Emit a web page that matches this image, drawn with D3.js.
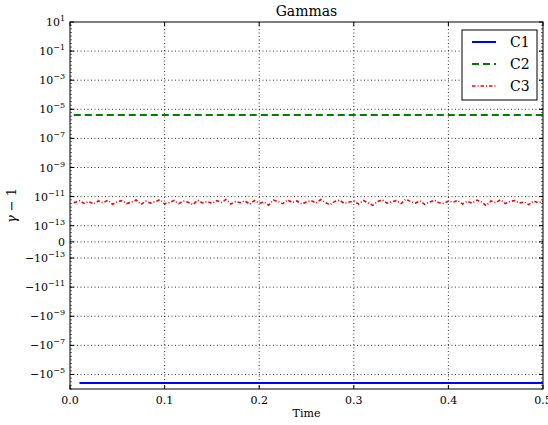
<!DOCTYPE html>
<html>
<head>
<meta charset="utf-8">
<script src="https://cdn.jsdelivr.net/npm/d3@7"></script>
<style>
  body { margin: 0; background: #fff; }
  svg { display: block; }
  text { font-family: "DejaVu Serif", "Liberation Serif", serif; fill: #000; }
</style>
</head>
<body>
<div id="chart"></div>
<script>
// values
var seriesNames = ["C1", "C2", "C3"];
var seriesColors = ["#0000ff", "#008000", "#ff0000"];
var c1Value = -3.9e-5;
var c2Value = 4.1e-6;
// C3 is noisy, in units of 1e-12
var c3Values = [4.0,5.2,3.4,4.6,3.1,5.0,3.8,5.6,3.0,4.4,5.3,3.3,4.2,5.8,2.9,4.9,3.6,4.5,6.1,3.2,
  3.9,5.4,3.3,5.0,4.1,2.8,5.7,3.7,4.7,3.4,5.2,4.0,6.4,3.1,4.6,3.8,5.1,3.0,5.4,3.5,
  4.2,2.6,5.8,4.6,3.3,6.0,3.9,5.0,3.1,4.3,5.3,3.6,6.3,3.8,2.8,4.7,5.7,3.4,4.2,5.0,
  3.1,5.4,3.8,2.5,4.6,6.0,3.5,4.3,5.3,3.3,6.6,4.6,3.6,5.1,2.9,4.2,5.7,3.8,3.4,5.0,
  4.2,5.4,3.1,4.7,3.6,5.8,4.3,2.4,5.0,3.8,6.0,3.3,4.6,5.4,3.6,4.3,2.8,5.0,3.8,4.6];
var xTicks = [0, 0.1, 0.2, 0.3, 0.4, 0.5];
var yTicks = [10, 1e-1, 1e-3, 1e-5, 1e-7, 1e-9, 1e-11, 1e-13, 0, -1e-13, -1e-11, -1e-9, -1e-7, -1e-5];
var yTickExp = [1, -1, -3, -5, -7, -9, -11, -13, null, -13, -11, -9, -7, -5];

var time = c3Values.map(function(d, i) { return (i + 1) * 0.005; });

// matplotlib style symlog, linthresh 1e-13, linscale 1
var linthresh = 1e-13;
var linscaleAdj = 1 / (1 - 0.1);
function symlog(v) {
  var a = Math.abs(v);
  if (a <= linthresh) return v / linthresh * linscaleAdj;
  return Math.sign(v) * (Math.log10(a / linthresh) + linscaleAdj);
}

var width = 548, height = 425;
var margin = {left: 70, right: 5, top: 22, bottom: 36};

var svg = d3.select("#chart").append("svg")
  .attr("width", width)
  .attr("height", height);

var x = d3.scaleLinear().domain([0, 0.5]).range([margin.left, width - margin.right]);
var yLin = d3.scaleLinear().domain([symlog(-1e-4), symlog(10)]).range([height - margin.bottom, margin.top]);
function y(v) { return yLin(symlog(v)); }

var x0 = x(0), x1 = x(0.5), yTop = y(10), yBot = y(-1e-4);

// grid
svg.append("g").selectAll("line.gx")
  .data(xTicks.slice(1, -1))
  .enter().append("line")
  .attr("x1", function(d) { return x(d); }).attr("x2", function(d) { return x(d); })
  .attr("y1", yTop).attr("y2", yBot)
  .attr("stroke", "#000").attr("stroke-width", 0.8).attr("stroke-dasharray", "1,2.5");
svg.append("g").selectAll("line.gy")
  .data(yTicks.slice(1))
  .enter().append("line")
  .attr("x1", x0).attr("x2", x1)
  .attr("y1", function(d) { return y(d); }).attr("y2", function(d) { return y(d); })
  .attr("stroke", "#000").attr("stroke-width", 0.8).attr("stroke-dasharray", "1,2.5");

// minor y ticks, 4 per decade
var minor = [];
for (var t = yLin.domain()[0]; t <= yLin.domain()[1] + 1e-9; t += 0.25) minor.push(t);
svg.append("g").selectAll("line")
  .data(minor)
  .enter().append("line")
  .attr("x1", x0).attr("x2", x0 + 2)
  .attr("y1", function(d) { return yLin(d); }).attr("y2", function(d) { return yLin(d); })
  .attr("stroke", "#000").attr("stroke-width", 0.6);
svg.append("g").selectAll("line")
  .data(minor)
  .enter().append("line")
  .attr("x1", x1).attr("x2", x1 - 2)
  .attr("y1", function(d) { return yLin(d); }).attr("y2", function(d) { return yLin(d); })
  .attr("stroke", "#000").attr("stroke-width", 0.6);

// major ticks (inward)
svg.append("g").selectAll("line")
  .data(yTicks)
  .enter().append("line")
  .attr("x1", x0).attr("x2", x0 + 4)
  .attr("y1", function(d) { return y(d); }).attr("y2", function(d) { return y(d); })
  .attr("stroke", "#000");
svg.append("g").selectAll("line")
  .data(yTicks)
  .enter().append("line")
  .attr("x1", x1).attr("x2", x1 - 4)
  .attr("y1", function(d) { return y(d); }).attr("y2", function(d) { return y(d); })
  .attr("stroke", "#000");
svg.append("g").selectAll("line")
  .data(xTicks)
  .enter().append("line")
  .attr("x1", function(d) { return x(d); }).attr("x2", function(d) { return x(d); })
  .attr("y1", yBot).attr("y2", yBot - 4)
  .attr("stroke", "#000");
svg.append("g").selectAll("line")
  .data(xTicks)
  .enter().append("line")
  .attr("x1", function(d) { return x(d); }).attr("x2", function(d) { return x(d); })
  .attr("y1", yTop).attr("y2", yTop + 4)
  .attr("stroke", "#000");

// series
var line = d3.line().x(function(d) { return x(d[0]); }).y(function(d) { return y(d[1]); });
var data1 = time.map(function(t) { return [t, c1Value]; });
data1[0][0] = 0.01;
var data2 = time.map(function(t) { return [t, c2Value]; });
var data3 = time.map(function(t, i) { return [t, c3Values[i] * 1e-12]; });
data2.unshift([0.004, c2Value]);
data3.unshift([0.004, c3Values[0] * 1e-12]);

var clip = svg.append("clipPath").attr("id", "clip").append("rect")
  .attr("x", x0).attr("y", yTop).attr("width", x1 - x0).attr("height", yBot - yTop);
var plot = svg.append("g").attr("clip-path", "url(#clip)");

plot.append("path").datum(data1).attr("d", line)
  .attr("fill", "none").attr("stroke", seriesColors[0]).attr("stroke-width", 2);
plot.append("path").datum(data2).attr("d", line)
  .attr("fill", "none").attr("stroke", seriesColors[1]).attr("stroke-width", 2)
  .attr("stroke-dasharray", "7,4");
plot.append("path").datum(data3).attr("d", line)
  .attr("fill", "none").attr("stroke", seriesColors[2]).attr("stroke-width", 1.6)
  .attr("stroke-dasharray", "3.5,2,1,2");

// frame
svg.append("rect")
  .attr("x", x0).attr("y", yTop).attr("width", x1 - x0).attr("height", yBot - yTop)
  .attr("fill", "none").attr("stroke", "#000").attr("stroke-width", 1);

// y tick labels
var yl = svg.append("g").selectAll("text")
  .data(yTicks)
  .enter().append("text")
  .attr("x", x0 - 5)
  .attr("y", function(d) { return y(d) + 4; })
  .attr("text-anchor", "end")
  .style("font-size", "11px");
yl.each(function(d, i) {
  var el = d3.select(this);
  if (yTickExp[i] === null) { el.text("0"); return; }
  el.append("tspan").text((d < 0 ? "\u221210" : "10"));
  el.append("tspan").attr("dy", -5).style("font-size", "8px")
    .text(String(yTickExp[i]).replace("-", "\u2212"));
});

// x tick labels
svg.append("g").selectAll("text")
  .data(xTicks)
  .enter().append("text")
  .attr("x", function(d) { return x(d); })
  .attr("y", yBot + 15)
  .attr("text-anchor", "middle")
  .style("font-size", "11px")
  .text(function(d) { return d3.format(".1f")(d); });

// title and labels
svg.append("text").attr("x", (x0 + x1) / 2).attr("y", 16)
  .attr("text-anchor", "middle").style("font-size", "14px").text("Gammas");
svg.append("text").attr("x", (x0 + x1) / 2).attr("y", 417)
  .attr("text-anchor", "middle").style("font-size", "11px").text("Time");
var ylab = svg.append("text")
  .attr("transform", "translate(16," + ((yTop + yBot) / 2) + ") rotate(-90)")
  .attr("text-anchor", "middle").style("font-size", "13px");
ylab.append("tspan").style("font-style", "italic").text("\u03b3");
ylab.append("tspan").text(" \u2212 1");

// legend
var lg = svg.append("g");
lg.append("rect").attr("x", 462).attr("y", 30).attr("width", 75).attr("height", 70)
  .attr("fill", "#fff").attr("stroke", "#000").attr("stroke-width", 1);
var dashes = [null, "7,4", "3.5,2,1,2"];
var widths = [2, 2, 1.6];
seriesNames.forEach(function(name, i) {
  var ly = 42 + i * 22;
  lg.append("line").attr("x1", 472).attr("x2", 496).attr("y1", ly).attr("y2", ly)
    .attr("stroke", seriesColors[i]).attr("stroke-width", widths[i])
    .attr("stroke-dasharray", dashes[i]);
  lg.append("text").attr("x", 510).attr("y", ly + 5).style("font-size", "14px").text(name);
});
</script>
</body>
</html>
